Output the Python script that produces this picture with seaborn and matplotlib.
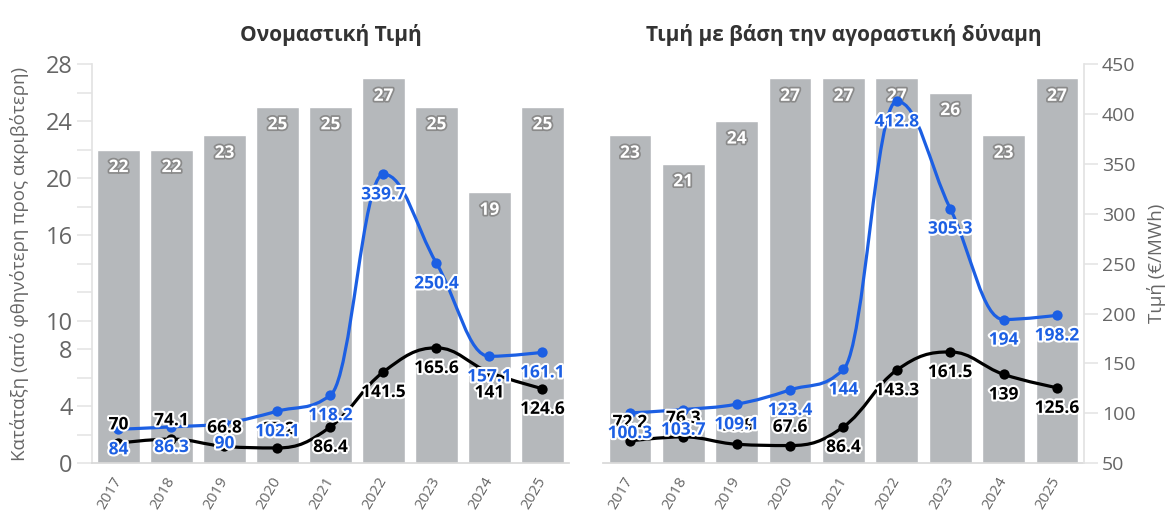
import numpy as np
import pandas as pd
import matplotlib
matplotlib.use("Agg")
import matplotlib.pyplot as plt
import matplotlib.patheffects as pe
from matplotlib.path import Path
from matplotlib.patches import PathPatch
import seaborn as sns

# ---------------- data ----------------
years = ["2017", "2018", "2019", "2020", "2021", "2022", "2023", "2024", "2025"]

rank_nominal = [22, 22, 23, 25, 25, 27, 25, 19, 25]
blue_nominal = [84, 86.3, 90, 102.1, 118.2, 339.7, 250.4, 157.1, 161.1]
black_nominal = [70, 74.1, 66.8, 65.2, 86.4, 141.5, 165.6, 141, 124.6]

rank_pps = [23, 21, 24, 27, 27, 27, 26, 23, 27]
blue_pps = [100.3, 103.7, 109.1, 123.4, 144, 412.8, 305.3, 194, 198.2]
black_pps = [72.2, 76.3, 68.9, 67.6, 86.4, 143.3, 161.5, 139, 125.6]

titles = ["Ονομαστική Τιμή", "Τιμή με βάση την αγοραστική δύναμη"]
left_ylabel = "Κατάταξη (από φθηνότερη προς ακριβότερη)"
right_ylabel = "Τιμή (€/MWh)"
rank_ticks_labeled = [0, 4, 8, 10, 16, 20, 24, 28]
price_ticks = [50, 100, 150, 200, 250, 300, 350, 400, 450]

# label placement (+1 above the point, -1 below)
black_nominal_pos = [1, 1, 1, 1, -1, -1, -1, -1, -1]
black_pps_pos = [1, 1, 1, 1, -1, -1, -1, -1, -1]

# ---------------- style ----------------
sns.set_theme(style="white")
plt.rcParams["font.family"] = ["Open Sans", "DejaVu Sans"]

BAR = "#b5b8bb"
BLUE = "#1c5fe3"
BLACK = "#000000"
AXC = "#e3e3e3"
TXT = "#666666"
LBL = 12.5


def spline_path(xs, ys, smoothing=1.5):
    denom = smoothing + 1
    n = len(xs)
    lefts, rights = [], []
    for i in range(n):
        x, y = xs[i], ys[i]
        if 0 < i < n - 1:
            lx, ly = xs[i - 1], ys[i - 1]
            nx, ny = xs[i + 1], ys[i + 1]
            lcx = (smoothing * x + lx) / denom
            lcy = (smoothing * y + ly) / denom
            rcx = (smoothing * x + nx) / denom
            rcy = (smoothing * y + ny) / denom
            if rcx != lcx:
                corr = ((rcy - lcy) * (rcx - x)) / (rcx - lcx) + y - rcy
                lcy += corr
                rcy += corr
            if lcy > max(ly, y):
                lcy = max(ly, y); rcy = 2 * y - lcy
            elif lcy < min(ly, y):
                lcy = min(ly, y); rcy = 2 * y - lcy
            if rcy > max(ny, y):
                rcy = max(ny, y); lcy = 2 * y - rcy
            elif rcy < min(ny, y):
                rcy = min(ny, y); lcy = 2 * y - rcy
            lefts.append((lcx, lcy)); rights.append((rcx, rcy))
        else:
            lefts.append((x, y)); rights.append((x, y))
    verts = [(xs[0], ys[0])]
    codes = [Path.MOVETO]
    for i in range(1, n):
        verts += [rights[i - 1], lefts[i], (xs[i], ys[i])]
        codes += [Path.CURVE4] * 3
    return Path(verts, codes)


fig = plt.figure(figsize=(11.69, 5.18), dpi=100)
ax_l = fig.add_axes([0.0787, 0.106, 0.408, 0.770])
ax_r = fig.add_axes([0.516, 0.106, 0.411, 0.770])

panels = [
    (ax_l, rank_nominal, blue_nominal, black_nominal, black_nominal_pos, titles[0]),
    (ax_r, rank_pps, blue_pps, black_pps, black_pps_pos, titles[1]),
]

for k, (ax, ranks, blue, black, bpos, title) in enumerate(panels):
    df = pd.DataFrame({"year": years, "rank": ranks})
    sns.barplot(data=df, x="year", y="rank", color=BAR, width=0.8,
                saturation=1, ax=ax, zorder=2)
    ax.set_ylim(0, 28)
    ax.set_xlim(-0.5, len(years) - 0.5)
    ax.set_xlabel("")
    ax.set_ylabel("")
    for sp in ["top", "right"]:
        ax.spines[sp].set_visible(False)
    ax.spines["bottom"].set_color("#d8d8d8")
    ax.spines["left"].set_color(AXC)
    ax.tick_params(axis="x", length=9, color="#e6e6e6", direction="out",
                   labelsize=11, labelcolor=TXT, pad=2)
    for lab in ax.get_xticklabels():
        lab.set_rotation(60)
        lab.set_ha("right")
        lab.set_va("center")
        lab.set_rotation_mode("anchor")

    if k == 0:
        ax.set_yticks(list(range(0, 29, 2)))
        ax.set_yticklabels([str(t) if t in rank_ticks_labeled else "" for t in range(0, 29, 2)])
        ax.tick_params(axis="y", length=11, color="#e6e6e6", labelsize=17,
                       labelcolor=TXT, pad=3)
        ax.set_ylabel(left_ylabel, color=TXT, fontsize=13.5, labelpad=12)
    else:
        ax.set_yticks([])
        ax.spines["left"].set_visible(False)

    # bar labels
    for i, r in enumerate(ranks):
        ax.annotate(str(r), (i, r), xytext=(0, -12.5), textcoords="offset points",
                    ha="center", va="center", fontsize=LBL, fontweight="bold",
                    color="white", zorder=3,
                    path_effects=[pe.withStroke(linewidth=2.5, foreground="#8a8a8a")])

    ax.set_title(title, fontsize=15, fontweight="bold", color="#333333", pad=17)

    # price axis
    ax2 = ax.twinx()
    ax2.set_ylim(50, 450)
    ax2.set_xlim(-0.5, len(years) - 0.5)
    for sp in ["top", "left", "bottom"]:
        ax2.spines[sp].set_visible(False)
    if k == 1:
        ax2.spines["right"].set_color(AXC)
        ax2.set_yticks(price_ticks)
        ax2.tick_params(axis="y", length=10, color="#e6e6e6", labelsize=14,
                        labelcolor=TXT, pad=3)
        ax2.set_ylabel(right_ylabel, color=TXT, fontsize=13.5, labelpad=8)
    else:
        ax2.spines["right"].set_visible(False)
        ax2.set_yticks([])

    xs = np.arange(len(years))
    for vals, col in [(black, BLACK), (blue, BLUE)]:
        path = spline_path(list(xs.astype(float)), list(vals))
        ax2.add_patch(PathPatch(path, fill=False, edgecolor=col, lw=2.3,
                                zorder=4, capstyle="round", joinstyle="round"))
        sns.scatterplot(x=xs, y=vals, color=col, s=55, edgecolor=col,
                        linewidth=0, ax=ax2, zorder=5, legend=False)

    # black labels first, then blue labels on top
    for i, v in enumerate(black):
        off = 13.5 if bpos[i] > 0 else -14.5
        ax2.annotate(f"{v:g}", (i, v), xytext=(0, off), textcoords="offset points",
                     ha="center", va="center", fontsize=LBL, fontweight="bold",
                     color=BLACK, zorder=6,
                     path_effects=[pe.withStroke(linewidth=3, foreground="white")])
    for i, v in enumerate(blue):
        ax2.annotate(f"{v:g}", (i, v), xytext=(0, -14.5), textcoords="offset points",
                     ha="center", va="center", fontsize=LBL, fontweight="bold",
                     color=BLUE, zorder=7,
                     path_effects=[pe.withStroke(linewidth=3, foreground="white")])
    ax2.set_xlim(-0.5, len(years) - 0.5)

fig.savefig("out.png", dpi=100, facecolor="white")
